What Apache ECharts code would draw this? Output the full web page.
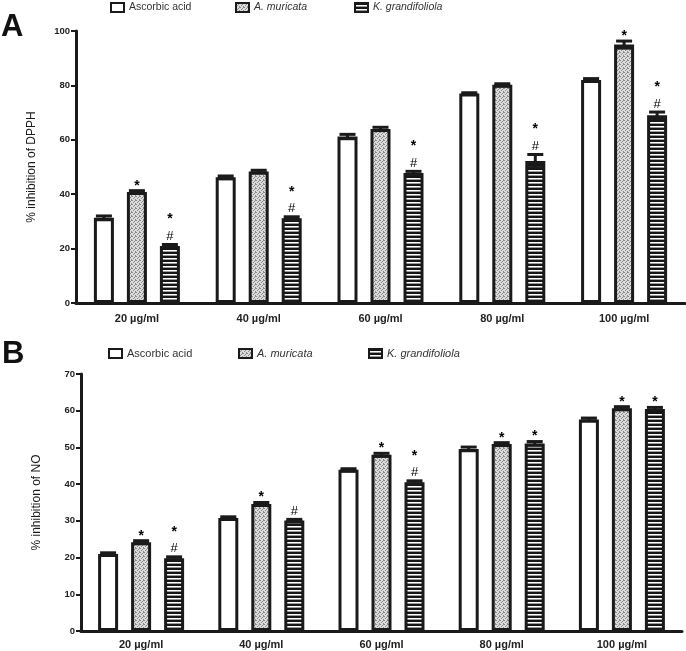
<!DOCTYPE html>
<html><head><meta charset="utf-8">
<script src="https://cdn.jsdelivr.net/npm/echarts@6/dist/echarts.min.js"></script>
<style>html,body{margin:0;padding:0;background:#fff}#c{width:686px;height:651px}</style>
</head><body><div id="c"></div>
<script>
// ---------- data ----------
const categories = ['20 µg/ml', '40 µg/ml', '60 µg/ml', '80 µg/ml', '100 µg/ml'];
const seriesNames = ['Ascorbic acid', 'A. muricata', 'K. grandifoliola'];

// Panel A: % inhibition of DPPH
const dpphAscorbic = [31.3, 46.2, 61.2, 77.0, 82.0];
const dpphMuricata = [40.8, 48.3, 64.0, 80.2, 95.0];
const dpphKgrand   = [21.0, 31.2, 47.8, 52.2, 69.0];
const dpphAscorbicErr = [0.7, 0.5, 0.8, 0.3, 0.5];
const dpphMuricataErr = [0.5, 0.5, 0.6, 0.4, 1.3];
const dpphKgrandErr   = [0.5, 0.5, 0.6, 2.4, 1.2];
const dpphAscorbicMarks = ['', '', '', '', ''];
const dpphMuricataMarks = ['*', '', '', '', '*'];
const dpphKgrandMarks   = ['*#', '*#', '*#', '*#', '*#'];
const dpphTicks = {min: 0, max: 100, interval: 20};

// Panel B: % inhibition of NO
const noAscorbic = [21.0, 30.8, 43.9, 49.6, 57.6];
const noMuricata = [24.2, 34.6, 48.0, 50.9, 60.7];
const noKgrand   = [19.8, 30.1, 40.5, 51.1, 60.5];
const noAscorbicErr = [0.3, 0.3, 0.3, 0.5, 0.4];
const noMuricataErr = [0.4, 0.4, 0.4, 0.4, 0.4];
const noKgrandErr   = [0.4, 0.3, 0.4, 0.5, 0.4];
const noAscorbicMarks = ['', '', '', '', ''];
const noMuricataMarks = ['*', '*', '*', '*', '*'];
const noKgrandMarks   = ['*#', '#', '*#', '*', '*'];
const noTicks = {min: 0, max: 70, interval: 10};

// ---------- styles ----------
const SANS = "'Liberation Sans',Arial,sans-serif";
const INK = '#1a1a1a';
const BAR_W = 20, BAR_GAP = 0.65;

function stipple() {
  const c = document.createElement('canvas'); c.width = 4; c.height = 4;
  const g = c.getContext('2d');
  g.fillStyle = '#dcdcdc'; g.fillRect(0, 0, 4, 4);
  g.fillStyle = '#8a8a8a';
  [[0,0],[2,1],[1,2],[3,3],[3,0]].forEach(p => g.fillRect(p[0], p[1], 1, 1));
  return c;
}
function stripes() {
  const c = document.createElement('canvas'); c.width = 4; c.height = 4;
  const g = c.getContext('2d');
  const rows = ['#151515', '#151515', '#ffffff', '#9a9a9a'];
  rows.forEach((col, i) => { g.fillStyle = col; g.fillRect(0, i, 4, 1); });
  return c;
}
const fills = ['#ffffff', {image: stipple(), repeat: 'repeat'}, {image: stripes(), repeat: 'repeat'}];

function barSeries(name, idx, values, grid) {
  return {
    name: name, type: 'bar', xAxisIndex: grid, yAxisIndex: grid,
    data: values, barWidth: BAR_W, barGap: (BAR_GAP * 100) + '%',
    itemStyle: {color: fills[idx], borderColor: INK, borderWidth: 3},
    emphasis: {disabled: true}, z: 2
  };
}
function errSeries(idx, values, errs, marks, grid) {
  return {
    type: 'custom', xAxisIndex: grid, yAxisIndex: grid, silent: true, z: 5, clip: false,
    data: values.map((v, i) => [i, v, errs[i]]),
    renderItem: function (params, api) {
      const i = api.value(0), v = api.value(1), e = api.value(2);
      const off = (idx - 1) * BAR_W * (1 + BAR_GAP);
      const top = api.coord([i, v + e]), bot = api.coord([i, v - e]);
      const x = top[0] + off;
      const ls = {stroke: INK, lineWidth: 3};
      const ch = [
        {type: 'line', shape: {x1: x, y1: top[1], x2: x, y2: bot[1]}, style: ls},
        {type: 'line', shape: {x1: x - 8, y1: top[1], x2: x + 8, y2: top[1]}, style: ls},
        {type: 'line', shape: {x1: x - 8, y1: bot[1], x2: x + 8, y2: bot[1]}, style: ls}
      ];
      const m = marks[params.dataIndex];
      const tstyle = (t, y, font) => ({text: t, x: x, y: y, align: 'center', verticalAlign: 'middle',
        textAlign: 'center', textVerticalAlign: 'middle', font: font, fill: '#000'});
      if (m.indexOf('#') >= 0) {
        ch.push({type: 'text', style: tstyle('#', top[1] - 8, '13px ' + SANS)});
        if (m.indexOf('*') >= 0) ch.push({type: 'text', style: tstyle('*', top[1] - 25, 'bold 14px ' + SANS)});
      } else if (m.indexOf('*') >= 0) {
        ch.push({type: 'text', style: tstyle('*', top[1] - 5, 'bold 14px ' + SANS)});
      }
      return {type: 'group', children: ch};
    }
  };
}
function xAxis(grid, margin) {
  return {
    type: 'category', gridIndex: grid, data: categories,
    axisLine: {lineStyle: {color: INK, width: 3}},
    axisTick: {show: false},
    axisLabel: {fontFamily: SANS, fontWeight: 'bold', fontSize: 11, color: '#222', margin: margin}
  };
}
function yAxis(grid, ticks, name) {
  return {
    type: 'value', gridIndex: grid, min: ticks.min, max: ticks.max, interval: ticks.interval,
    name: name, nameLocation: 'middle', nameGap: 38,
    nameTextStyle: {fontFamily: SANS, fontSize: 12, color: '#1a1a1a'},
    axisLine: {show: true, lineStyle: {color: INK, width: 3}},
    axisTick: {show: true, length: 5, lineStyle: {color: INK, width: 2}},
    splitLine: {show: false},
    axisLabel: {fontFamily: SANS, fontWeight: 'bold', fontSize: 9.5, color: '#222', margin: 6}
  };
}
function legend(name, left, top, italic, size) {
  return {
    data: [{name: name, icon: 'rect'}], left: left, top: top, padding: 0, selectedMode: false,
    itemWidth: 13, itemHeight: 9, itemStyle: {borderWidth: 2},
    textStyle: {fontFamily: SANS, fontSize: size, color: '#333', fontStyle: italic ? 'italic' : 'normal'}
  };
}

const chart = echarts.init(document.getElementById('c'), null, {renderer: 'canvas'});
chart.setOption({
  animation: false,
  backgroundColor: '#fff',
  grid: [
    {left: 76, top: 31, width: 609, height: 272},
    {left: 81, top: 374, width: 601, height: 257}
  ],
  xAxis: [xAxis(0, 10), xAxis(1, 8)],
  yAxis: [yAxis(0, dpphTicks, '% inhibition of DPPH'), yAxis(1, noTicks, '% inhibition of NO')],
  legend: [
    legend(seriesNames[0], 110, 2, false, 10.5),
    legend(seriesNames[1], 235, 2, true, 10.5),
    legend(seriesNames[2], 354, 2, true, 10.5),
    legend(seriesNames[0], 108, 348, false, 11),
    legend(seriesNames[1], 238, 348, true, 11),
    legend(seriesNames[2], 368, 348, true, 11)
  ],
  graphic: [
    {type: 'text', left: 1, top: 12, style: {text: 'A', font: 'bold 31px ' + SANS, fill: '#111'}},
    {type: 'text', left: 2, top: 339, style: {text: 'B', font: 'bold 31px ' + SANS, fill: '#111'}}
  ],
  series: [
    barSeries(seriesNames[0], 0, dpphAscorbic, 0),
    barSeries(seriesNames[1], 1, dpphMuricata, 0),
    barSeries(seriesNames[2], 2, dpphKgrand, 0),
    errSeries(0, dpphAscorbic, dpphAscorbicErr, dpphAscorbicMarks, 0),
    errSeries(1, dpphMuricata, dpphMuricataErr, dpphMuricataMarks, 0),
    errSeries(2, dpphKgrand, dpphKgrandErr, dpphKgrandMarks, 0),
    barSeries(seriesNames[0], 0, noAscorbic, 1),
    barSeries(seriesNames[1], 1, noMuricata, 1),
    barSeries(seriesNames[2], 2, noKgrand, 1),
    errSeries(0, noAscorbic, noAscorbicErr, noAscorbicMarks, 1),
    errSeries(1, noMuricata, noMuricataErr, noMuricataMarks, 1),
    errSeries(2, noKgrand, noKgrandErr, noKgrandMarks, 1)
  ]
});
</script></body></html>
